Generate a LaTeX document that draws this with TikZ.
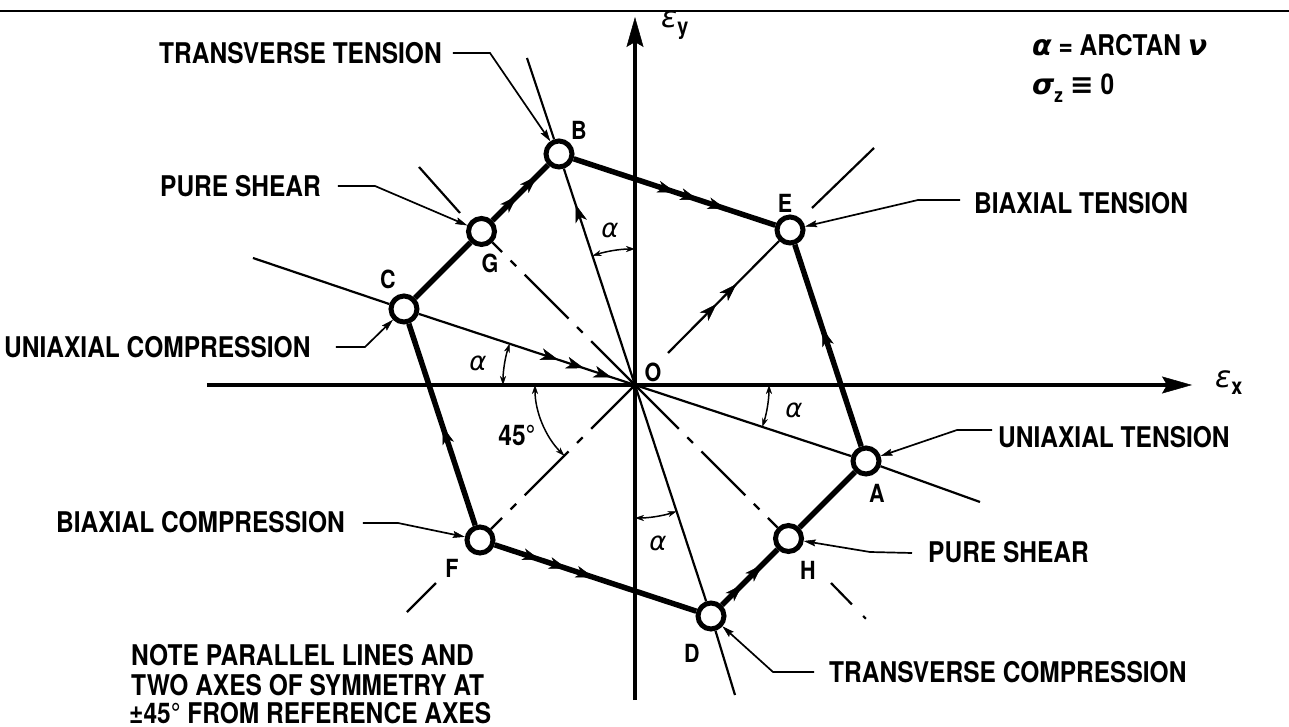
\documentclass[tikz,border=0pt]{standalone}
\usepackage{fontspec}
\newfontfamily\lbl{TeX Gyre Heros}[FakeStretch=0.86]
\newfontfamily\grk{DejaVu Sans}
\usetikzlibrary{arrows.meta,decorations.markings}
\tikzset{
 vtx/.style={circle,draw,fill=white,line width=5pt,minimum size=26pt,inner sep=0pt},
 hexedge/.style={line width=5.5pt},
 thinray/.style={line width=2.2pt},
 symline/.style={line width=2.2pt,dash pattern=on 62pt off 12pt on 8pt off 12pt},
 axisline/.style={line width=3.8pt,-{Stealth[length=30pt,width=17pt,inset=5pt,line width=0.5pt]}},
 lead/.style={line width=1.7pt,-{Stealth[length=12pt,width=7pt,inset=2pt,line width=0.5pt]}},
 txt/.style={font=\lbl\bfseries\fontsize{28.5}{30}\selectfont,inner sep=0pt,anchor=west},
 plbl/.style={font=\lbl\bfseries\fontsize{25}{27}\selectfont,inner sep=0pt},
 glbl/.style={font=\grk\itshape\fontsize{26}{30}\selectfont,inner sep=0pt},
 am/.style={postaction={decorate,decoration={markings,mark=at position #1 with {\arrow{Stealth[length=18pt,width=12pt,inset=5pt,line width=0.5pt]}}}}},
 angarr/.style={line width=1.5pt,{Stealth[length=9pt,width=6pt,line width=0.5pt]}-{Stealth[length=9pt,width=6pt,line width=0.5pt]}},
}
\begin{document}
\begin{tikzpicture}[x=1pt,y=1pt]
\useasboundingbox (-635,-342) rectangle (654,385);
\fill[white] (-635,-342) rectangle (654,385);
\coordinate (O) at (0,0);
% top rule
\coordinate (TL) at (-635,374); \coordinate (TR) at (654,374);
\draw[line width=2.5pt] (TL) -- (TR);
% axes
\coordinate (xl) at (-428,0); \coordinate (xr) at (557,0);
\coordinate (yb) at (0,-315); \coordinate (yt) at (0,368);
\draw[axisline] (xl) -- (xr);
\draw[axisline] (yb) -- (yt);
% vertices
\node[vtx] (A) at (231,-76) {};
\node[vtx] (B) at (-76,231) {};
\node[vtx] (C) at (-231,76) {};
\node[vtx] (D) at (76,-231) {};
\node[vtx] (E) at (155,155) {};
\node[vtx] (F) at (-155,-155) {};
\node[vtx] (G) at (-153.5,153.5) {};
\node[vtx] (H) at (153.5,-153.5) {};
% far ends of rays
\coordinate (Bout) at (-108,327);
\coordinate (Cout) at (-382,127);
\coordinate (Aout) at (345,-117);
\coordinate (Dout) at (100,-310);
\coordinate (Ein) at (33,32);
\coordinate (E2a) at (177,177);
\coordinate (E2b) at (239,237);
\coordinate (F2a) at (-199,-198);
\coordinate (F2b) at (-228,-227);
\coordinate (G2a) at (-175,172);
\coordinate (G2b) at (-216,218);
\coordinate (H2a) at (196,-198);
\coordinate (H2c) at (236,-239);
% rays
\draw[thinray, am=190pt] (O) -- (B);
\draw[thinray] (B) -- (Bout);
\draw[thinray, am=147pt, am=174pt, am=203pt] (C) -- (O);
\draw[thinray] (C) -- (Cout);
\draw[thinray] (O) -- (A);
\draw[thinray] (A) -- (Aout);
\draw[thinray] (O) -- (D);
\draw[thinray] (D) -- (Dout);
\draw[thinray, am=69pt, am=97pt] (Ein) -- (E);
\draw[thinray] (E2a) -- (E2b);
\draw[symline] (O) -- (F);
\draw[thinray] (F2a) -- (F2b);
\draw[symline] (O) -- (G);
\draw[thinray] (G2a) -- (G2b);
\draw[symline] (O) -- (H);
\draw[thinray, dash pattern=on 30pt off 16pt on 4pt off 20pt] (H2a) -- (H2c);
% hexagon edges
\draw[hexedge] (C) -- (G);
\draw[hexedge, am=35pt, am=63pt] (G) -- (B);
\draw[hexedge, am=107pt, am=131pt, am=160pt] (B) -- (E);
\draw[hexedge, am=124pt] (A) -- (E);
\draw[hexedge] (H) -- (A);
\draw[hexedge, am=29pt, am=57pt] (D) -- (H);
\draw[hexedge, am=48pt, am=76pt, am=104pt] (F) -- (D);
\draw[hexedge, am=104pt] (F) -- (C);
% angle arcs
\draw[angarr] ([shift={(90:136)}]O) arc[start angle=90,end angle=108.2,radius=136];
\draw[angarr] ([shift={(161.8:132)}]O) arc[start angle=161.8,end angle=180,radius=132];
\draw[angarr] ([shift={(-18.2:134)}]O) arc[start angle=-18.2,end angle=0,radius=134];
\draw[angarr] ([shift={(270:133)}]O) arc[start angle=270,end angle=288.2,radius=133];
\draw[angarr] ([shift={(180:100)}]O) arc[start angle=180,end angle=225,radius=100];
\node[glbl] (a1) at (-25,155) {α};
\node[glbl] (a2) at (-157,22) {α};
\node[glbl] (a3) at (159,-25) {α};
\node[glbl] (a4) at (23,-158) {α};
\node[txt,anchor=center] (d45) at (-118,-50) {45°};
% point labels
\node[plbl] (lO) at (18,13) {O};
\node[plbl] (lA) at (242,-108) {A};
\node[plbl] (lB) at (-56,255) {B};
\node[plbl] (lC) at (-247,106) {C};
\node[plbl] (lD) at (57,-268) {D};
\node[plbl] (lE) at (150,182) {E};
\node[plbl] (lF) at (-183,-183) {F};
\node[plbl] (lG) at (-145,122) {G};
\node[plbl] (lH) at (173,-185) {H};
% axis labels
\node[anchor=west,inner sep=0pt] (ey) at (26,360) {{\grk\itshape\fontsize{30}{34}\selectfont ε}\raisebox{-7pt}{\lbl\bfseries\fontsize{23}{24}\selectfont y}};
\node[anchor=west,inner sep=0pt] (ex) at (580,2) {{\grk\itshape\fontsize{30}{34}\selectfont ε}\raisebox{-7pt}{\lbl\bfseries\fontsize{23}{24}\selectfont x}};
% formulas
\node[txt] (f1) at (397,340) {{\grk\itshape α} = ARCTAN {\grk\itshape ν}};
\node[txt] (f2) at (397,297) {{\grk\itshape σ}\raisebox{-8pt}{\fontsize{20}{22}\selectfont z} {\grk ≡} 0};
% texts
\node[txt] (tt) at (-476,332) {TRANSVERSE TENSION};
\node[txt] (psl) at (-475,199) {PURE SHEAR};
\node[txt] (uc) at (-631,38) {UNIAXIAL COMPRESSION};
\node[txt] (bt) at (339,182) {BIAXIAL TENSION};
\node[txt] (ut) at (363,-52) {UNIAXIAL TENSION};
\node[txt] (psr) at (293,-167) {PURE SHEAR};
\node[txt] (tc) at (194,-287) {TRANSVERSE COMPRESSION};
\node[txt] (bc) at (-579,-137) {BIAXIAL COMPRESSION};
\node[txt] (n1) at (-504,-270) {NOTE PARALLEL LINES AND};
\node[txt] (n2) at (-504,-300) {TWO AXES OF SYMMETRY AT};
\node[txt] (n3) at (-506,-328) {±45° FROM REFERENCE AXES};
% leaders
\coordinate (tt1) at (-182,332);
\coordinate (psl1) at (-297,199);
\coordinate (uc1) at (-299,38);
\coordinate (bt1) at (325,185);
\coordinate (ut1) at (357,-45);
\coordinate (psr1) at (277,-168);
\coordinate (tc1) at (179,-287);
\coordinate (bc1) at (-272,-138);
\draw[lead] (tt1) -- ++(37,0) -- (B);
\draw[lead] (psl1) -- ++(37,0) -- (G);
\draw[lead] (uc1) -- ++(29,0) -- (C);
\draw[lead] (bt1) -- ++(-42,0) -- (E);
\draw[lead] (ut1) -- ++(-35,0) -- (A);
\draw[lead] (psr1) -- ++(-42,1) -- (H);
\draw[lead] (tc1) -- ++(-41,0) -- (D);
\draw[lead] (bc1) -- ++(35,0) -- (F);
\end{tikzpicture}
\end{document}
